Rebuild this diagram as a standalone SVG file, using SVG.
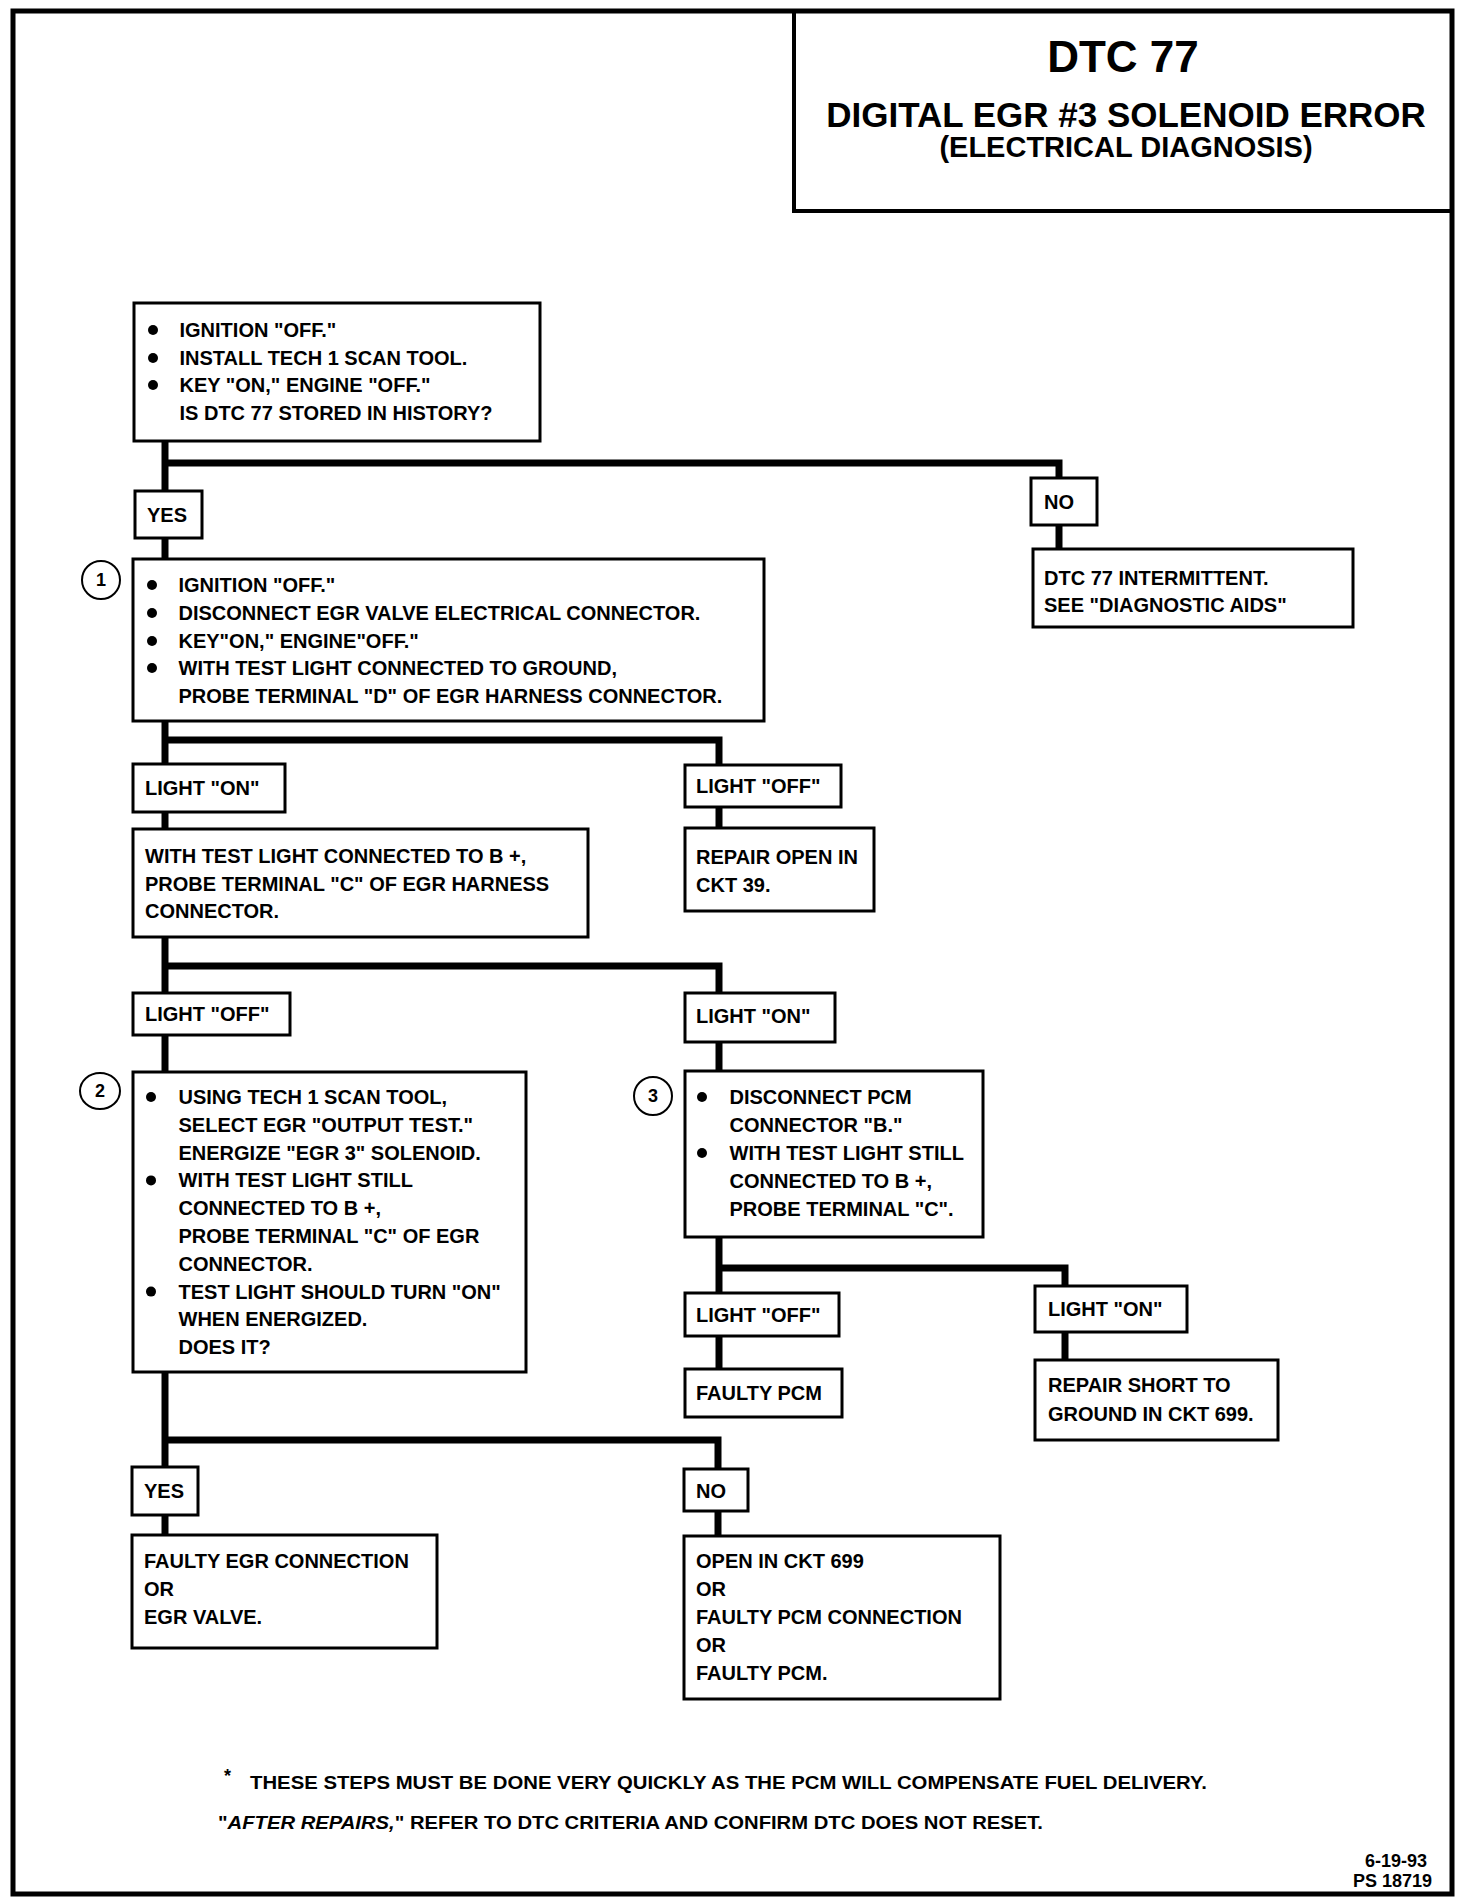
<svg xmlns="http://www.w3.org/2000/svg" width="1472" height="1904" viewBox="0 0 1472 1904">
<style>
.box{fill:#fff;stroke:#000;stroke-width:3}
.t{font-family:"Liberation Sans",Arial,sans-serif;font-weight:bold;font-size:20px;fill:#000}
.c{fill:none;stroke:#000;stroke-width:7;stroke-linejoin:miter}
.num{fill:#fff;stroke:#000;stroke-width:2}
.nt{font-family:"Liberation Sans",Arial,sans-serif;font-weight:bold;font-size:18px;fill:#000;text-anchor:middle}
.title{font-family:"Liberation Sans",Arial,sans-serif;font-weight:bold;fill:#000;text-anchor:middle}
.foot{font-family:"Liberation Sans",Arial,sans-serif;font-weight:bold;font-size:18px;fill:#000}
</style>
<rect x="0" y="0" width="1472" height="1904" fill="#fff"/>
<rect x="13" y="11" width="1439" height="1883" fill="none" stroke="#000" stroke-width="5"/>

<g id="title">
<rect x="794" y="11" width="658" height="200" fill="none" stroke="#000" stroke-width="4"/>
<text class="title" x="1123" y="72" font-size="44">DTC 77</text>
<text class="title" x="1126" y="127" font-size="35">DIGITAL EGR #3 SOLENOID ERROR</text>
<text class="title" x="1126" y="157" font-size="29">(ELECTRICAL DIAGNOSIS)</text>
</g>

<g id="connectors">
<path class="c" d="M165,441 V491"/>
<path class="c" d="M165,463 H1059 V478"/>
<path class="c" d="M165,538 V559"/>
<path class="c" d="M1059,525 V549"/>
<path class="c" d="M165,721 V764"/>
<path class="c" d="M165,740 H719 V765"/>
<path class="c" d="M165,812 V829"/>
<path class="c" d="M719,807 V828"/>
<path class="c" d="M165,937 V993"/>
<path class="c" d="M165,966 H719 V993"/>
<path class="c" d="M165,1035 V1072"/>
<path class="c" d="M719,1042 V1071"/>
<path class="c" d="M719,1237 V1293"/>
<path class="c" d="M719,1268 H1065 V1286"/>
<path class="c" d="M719,1336 V1369"/>
<path class="c" d="M1065,1332 V1360"/>
<path class="c" d="M165,1372 V1467"/>
<path class="c" d="M165,1440 H718 V1469"/>
<path class="c" d="M165,1515 V1535"/>
<path class="c" d="M718,1511 V1536"/>
</g>

<g id="n0">
<rect class="box" x="134" y="303" width="406" height="138"/>
<circle cx="153" cy="330" r="5"/><circle cx="153" cy="358" r="5"/><circle cx="153" cy="385" r="5"/>
<text class="t" x="179.5" y="337">IGNITION "OFF."</text>
<text class="t" x="179.5" y="364.7">INSTALL TECH 1 SCAN TOOL.</text>
<text class="t" x="179.5" y="392.4">KEY "ON," ENGINE "OFF."</text>
<text class="t" x="179.5" y="420">IS DTC 77 STORED IN HISTORY?</text>
</g>

<g id="yes1">
<rect class="box" x="135" y="491" width="67" height="47"/>
<text class="t" x="147" y="522">YES</text>
</g>

<g id="no1">
<rect class="box" x="1031" y="478" width="66" height="47"/>
<text class="t" x="1044" y="509">NO</text>
</g>

<g id="intermittent">
<rect class="box" x="1033" y="549" width="320" height="78"/>
<text class="t" x="1044" y="585">DTC 77 INTERMITTENT.</text>
<text class="t" x="1044" y="612">SEE "DIAGNOSTIC AIDS"</text>
</g>

<g id="n1">
<circle class="num" cx="101" cy="580" r="19"/>
<text class="nt" x="101" y="586">1</text>
<rect class="box" x="133" y="559" width="631" height="162"/>
<circle cx="152" cy="585" r="5"/><circle cx="152" cy="613" r="5"/><circle cx="152" cy="641" r="5"/><circle cx="152" cy="668" r="5"/>
<text class="t" x="178.5" y="592">IGNITION "OFF."</text>
<text class="t" x="178.5" y="619.8">DISCONNECT EGR VALVE ELECTRICAL CONNECTOR.</text>
<text class="t" x="178.5" y="647.6">KEY"ON," ENGINE"OFF."</text>
<text class="t" x="178.5" y="675.4">WITH TEST LIGHT CONNECTED TO GROUND,</text>
<text class="t" x="178.5" y="703.2">PROBE TERMINAL "D" OF EGR HARNESS CONNECTOR.</text>
</g>

<g id="lighton1">
<rect class="box" x="133" y="764" width="152" height="48"/>
<text class="t" x="145" y="795">LIGHT "ON"</text>
</g>

<g id="lightoff1">
<rect class="box" x="685" y="765" width="156" height="42"/>
<text class="t" x="696" y="793">LIGHT "OFF"</text>
</g>

<g id="probec">
<rect class="box" x="133" y="829" width="455" height="108"/>
<text class="t" x="145" y="863">WITH TEST LIGHT CONNECTED TO B +,</text>
<text class="t" x="145" y="890.5">PROBE TERMINAL "C" OF EGR HARNESS</text>
<text class="t" x="145" y="918">CONNECTOR.</text>
</g>

<g id="repairopen">
<rect class="box" x="685" y="828" width="189" height="83"/>
<text class="t" x="696" y="864">REPAIR OPEN IN</text>
<text class="t" x="696" y="891.5">CKT 39.</text>
</g>

<g id="lightoff2">
<rect class="box" x="133" y="993" width="157" height="42"/>
<text class="t" x="145" y="1021">LIGHT "OFF"</text>
</g>

<g id="lighton2">
<rect class="box" x="685" y="993" width="150" height="49"/>
<text class="t" x="696" y="1023">LIGHT "ON"</text>
</g>

<g id="n2">
<ellipse class="num" cx="100" cy="1091" rx="20" ry="18"/>
<text class="nt" x="100" y="1097">2</text>
<rect class="box" x="133" y="1072" width="393" height="300"/>
<circle cx="151" cy="1097" r="5"/><circle cx="151" cy="1180.4" r="5"/><circle cx="151" cy="1291.6" r="5"/>
<text class="t" x="178.5" y="1104">USING TECH 1 SCAN TOOL,</text>
<text class="t" x="178.5" y="1131.8">SELECT EGR "OUTPUT TEST."</text>
<text class="t" x="178.5" y="1159.6">ENERGIZE "EGR 3" SOLENOID.</text>
<text class="t" x="178.5" y="1187.4">WITH TEST LIGHT STILL</text>
<text class="t" x="178.5" y="1215.2">CONNECTED TO B +,</text>
<text class="t" x="178.5" y="1243">PROBE TERMINAL "C" OF EGR</text>
<text class="t" x="178.5" y="1270.8">CONNECTOR.</text>
<text class="t" x="178.5" y="1298.6">TEST LIGHT SHOULD TURN "ON"</text>
<text class="t" x="178.5" y="1326.4">WHEN ENERGIZED.</text>
<text class="t" x="178.5" y="1354.2">DOES IT?</text>
</g>

<g id="n3">
<circle class="num" cx="653" cy="1096" r="19"/>
<text class="nt" x="653" y="1102">3</text>
<rect class="box" x="685" y="1071" width="298" height="166"/>
<circle cx="702" cy="1097" r="5"/><circle cx="702" cy="1153" r="5"/>
<text class="t" x="729.5" y="1104">DISCONNECT PCM</text>
<text class="t" x="729.5" y="1132">CONNECTOR "B."</text>
<text class="t" x="729.5" y="1160">WITH TEST LIGHT STILL</text>
<text class="t" x="729.5" y="1188">CONNECTED TO B +,</text>
<text class="t" x="729.5" y="1216">PROBE TERMINAL "C".</text>
</g>

<g id="lightoff3">
<rect class="box" x="685" y="1293" width="154" height="43"/>
<text class="t" x="696" y="1322">LIGHT "OFF"</text>
</g>

<g id="faultypcm">
<rect class="box" x="685" y="1369" width="157" height="48"/>
<text class="t" x="696" y="1400">FAULTY PCM</text>
</g>

<g id="lighton3">
<rect class="box" x="1035" y="1286" width="152" height="46"/>
<text class="t" x="1048" y="1316">LIGHT "ON"</text>
</g>

<g id="repairshort">
<rect class="box" x="1035" y="1360" width="243" height="80"/>
<text class="t" x="1048" y="1392">REPAIR SHORT TO</text>
<text class="t" x="1048" y="1421">GROUND IN CKT 699.</text>
</g>

<g id="yes2">
<rect class="box" x="132" y="1467" width="66" height="48"/>
<text class="t" x="144" y="1498">YES</text>
</g>

<g id="faultyegr">
<rect class="box" x="132" y="1535" width="305" height="113"/>
<text class="t" x="144" y="1567.5">FAULTY EGR CONNECTION</text>
<text class="t" x="144" y="1596">OR</text>
<text class="t" x="144" y="1623.5">EGR  VALVE.</text>
</g>

<g id="no2">
<rect class="box" x="684" y="1469" width="64" height="42"/>
<text class="t" x="696" y="1498">NO</text>
</g>

<g id="openckt">
<rect class="box" x="684" y="1536" width="316" height="163"/>
<text class="t" x="696" y="1568">OPEN IN CKT 699</text>
<text class="t" x="696" y="1596">OR</text>
<text class="t" x="696" y="1623.5">FAULTY PCM CONNECTION</text>
<text class="t" x="696" y="1651.5">OR</text>
<text class="t" x="696" y="1679.5">FAULTY PCM.</text>
</g>

<g id="footer">
<text class="foot" x="224" y="1782" font-size="30">*</text>
<text class="foot" x="250" y="1789" textLength="957" lengthAdjust="spacingAndGlyphs">THESE STEPS MUST BE DONE VERY QUICKLY AS THE PCM WILL COMPENSATE FUEL DELIVERY.</text>
<text class="foot" x="218" y="1829" textLength="825" lengthAdjust="spacingAndGlyphs">"<tspan font-style="italic">AFTER REPAIRS,</tspan>" REFER TO DTC CRITERIA AND CONFIRM DTC DOES NOT RESET.</text>
<text class="foot" x="1427" y="1867" font-size="17" text-anchor="end">6-19-93</text>
<text class="foot" x="1432" y="1887" font-size="17" text-anchor="end">PS 18719</text>
</g>
</svg>
